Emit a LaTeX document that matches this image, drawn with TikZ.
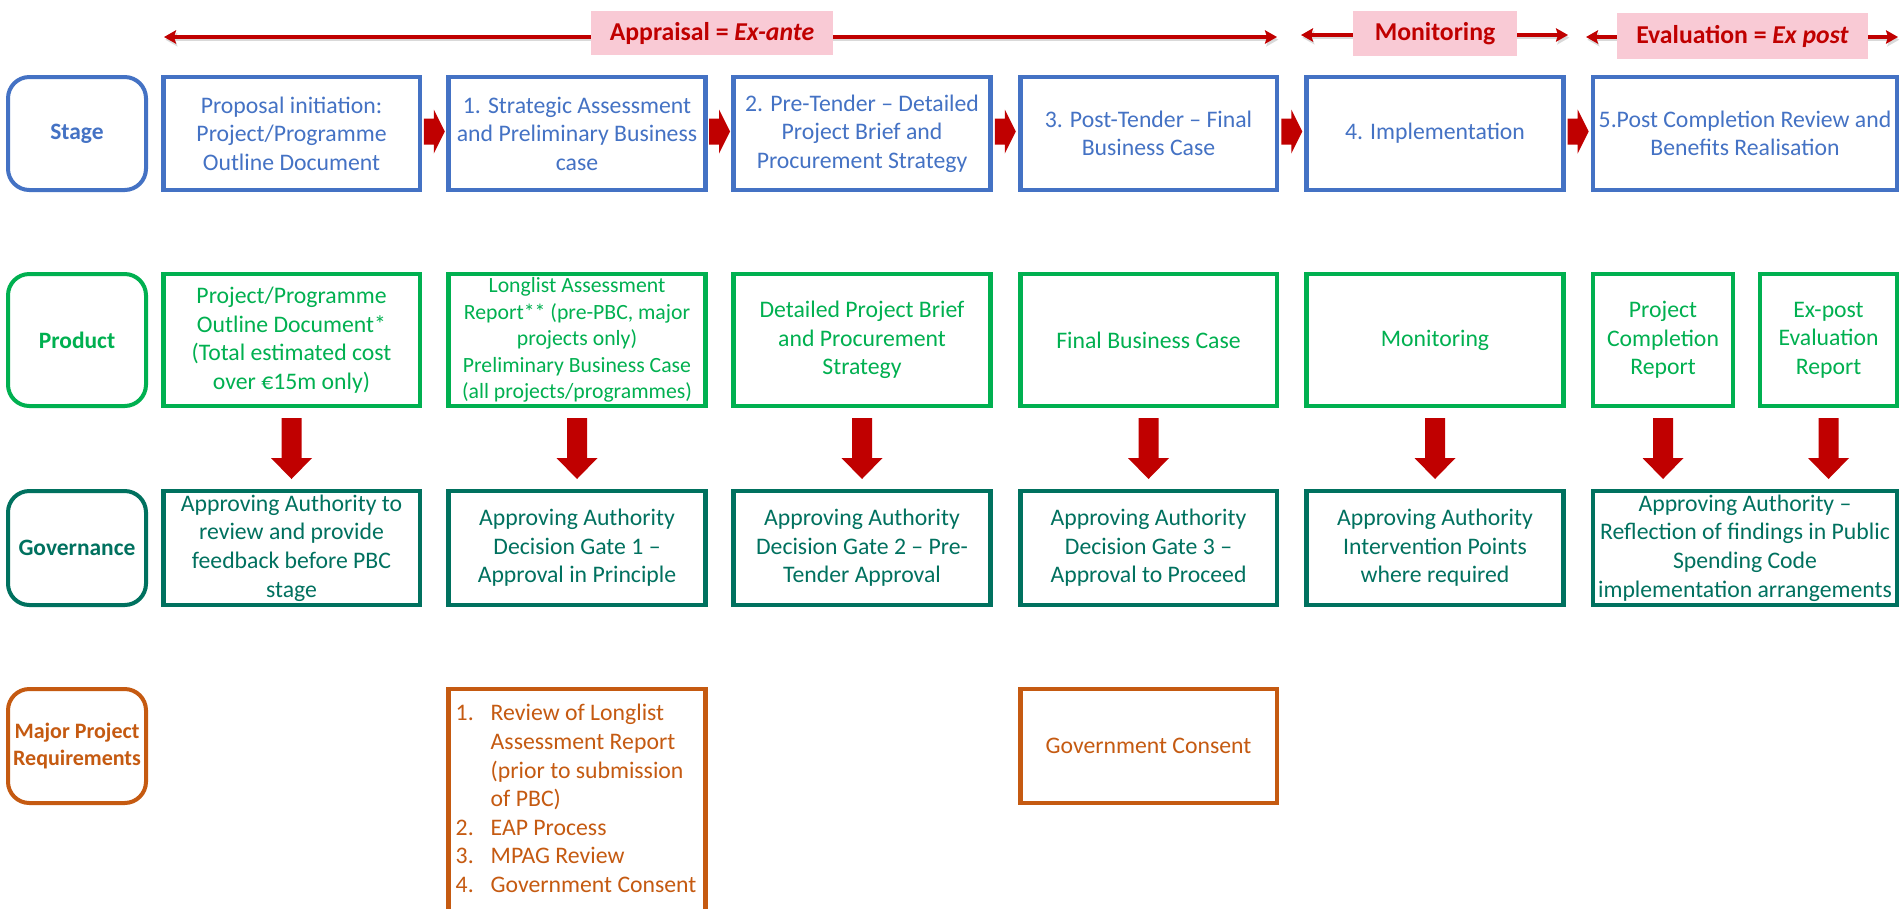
\documentclass[tikz,border=0pt]{standalone}
\usepackage{fontspec}
\setmainfont{Carlito}
\usetikzlibrary{arrows.meta,calc}
\definecolor{cblue}{HTML}{4472C4}
\definecolor{cgreen}{HTML}{00B050}
\definecolor{cteal}{HTML}{00715F}
\definecolor{corange}{HTML}{C55A11}
\definecolor{cred}{HTML}{C00000}
\definecolor{cpink}{HTML}{F9CAD5}
\newcommand\myrightarrow[1]{\fill[cred] ($(#1)+(-10.5,-13)$) -- ++(10,0) -- ++(0,-9) -- ++(11,22) -- ++(-11,22) -- ++(0,-9) -- ++(-10,0) -- cycle;}
\newcommand\mydownarrow[1]{\fill[cred] ($(#1)+(-10,-30.5)$) -- ++(20,0) -- ++(0,40) -- ++(10.5,0) -- ++(-20.5,21) -- ++(-20.5,-21) -- ++(10.5,0) -- cycle;}
\begin{document}
\begin{tikzpicture}[x=0.75pt,y=-0.75pt,
  every node/.style={inner sep=0pt, align=center},
  bx/.style={draw, line width=3.4pt, fill=white, font=\fontsize{17.8pt}{21.4pt}\selectfont},
  lbl/.style={draw, line width=3pt, rounded corners=16pt, fill=white, minimum width=103.5pt, font=\bfseries\fontsize{17.6pt}{21pt}\selectfont},
  stg/.style={bx, draw=cblue, text=cblue, minimum height=84.75pt},
  prd/.style={bx, draw=cgreen, text=cgreen, minimum height=99pt},
  gov/.style={bx, draw=cteal, text=cteal, minimum height=85.5pt},
  maj/.style={bx, draw=corange, text=corange},
  wA/.style={minimum width=192.4pt},
  wB/.style={minimum width=228pt},
  toparrow/.style={draw=cred, line width=2.4pt, {Stealth[length=9pt,width=10pt,inset=1.5pt]}-{Stealth[length=9pt,width=10pt,inset=1.5pt]},
    preaction={draw=black!15, line width=2.6pt, transform canvas={shift={(1pt,-2pt)}}}},
  toplabel/.style={fill=cpink, text=cred, font=\bfseries\fontsize{19.3pt}{23pt}\selectfont}
]
\useasboundingbox (0,0) rectangle (1901,908);
\clip (0,0) rectangle (1901,908);

% top arrows and labels
\coordinate (aL) at (164,37); \coordinate (aR) at (1277,37);
\coordinate (mL) at (1301,35); \coordinate (mR) at (1568,35);
\coordinate (eL) at (1586,37); \coordinate (eR) at (1898,37);
\draw[toparrow] (aL) -- (aR);
\draw[toparrow] (mL) -- (mR);
\draw[toparrow] (eL) -- (eR);
\node[toplabel, minimum width=181.5pt, minimum height=33pt] (appr) at (712,33) {Appraisal = \textit{Ex-ante}};
\node[toplabel, minimum width=123pt, minimum height=33.75pt] (moni) at (1435,33.5) {Monitoring};
\node[toplabel, minimum width=188.25pt, minimum height=34.5pt] (eval) at (1742.5,36) {Evaluation = \textit{Ex post}};

% row labels
\node[lbl, draw=cblue, text=cblue, minimum height=84.75pt] (Ls) at (77,133.5) {Stage};
\node[lbl, draw=cgreen, text=cgreen, minimum height=99pt] (Lp) at (77,340) {Product};
\node[lbl, draw=cteal, text=cteal, minimum height=85.5pt] (Lg) at (77,548) {Governance};
\node[lbl, draw=corange, text=corange, minimum height=85.5pt, font=\bfseries\fontsize{16.5pt}{20pt}\selectfont] (Lm) at (77,746) {Major Project\\Requirements};

% stage row
\node[stg, wA] (s1) at (291.5,133.5) {Proposal initiation:\\Project/Programme\\Outline Document};
\node[stg, wA] (s2) at (577,133.5) {1. Strategic Assessment\\and Preliminary Business\\case};
\node[stg, wA] (s3) at (862,133.5) {2. Pre-Tender – Detailed\\Project Brief and\\Procurement Strategy};
\node[stg, wA] (s4) at (1148.5,133.5) {3. Post-Tender – Final\\Business Case};
\node[stg, wA] (s5) at (1435,133.5) {4. Implementation};
\node[stg, wB] (s6) at (1745,133.5) {5.Post Completion Review and\\Benefits Realisation};

% product row
\node[prd, wA] (p1) at (291.5,340) {Project/Programme\\Outline Document*\\(Total estimated cost\\over €15m only)};
\node[prd, wA, font=\fontsize{16.3pt}{19.8pt}\selectfont] (p2) at (577,340) {Longlist Assessment\\Report** (pre-PBC, major\\projects only)\\Preliminary Business Case\\(all projects/programmes)};
\node[prd, wA] (p3) at (862,340) {Detailed Project Brief\\and Procurement\\Strategy};
\node[prd, wA] (p4) at (1148.5,340) {Final Business Case};
\node[prd, wA] (p5) at (1435,340) {Monitoring};
\node[prd, minimum width=105pt] (p6a) at (1663,340) {Project\\Completion\\Report};
\node[prd, minimum width=102.75pt] (p6b) at (1828.5,340) {Ex-post\\Evaluation\\Report};

% governance row
\node[gov, wA] (g1) at (291.5,548) {Approving Authority to\\review and provide\\feedback before PBC\\stage};
\node[gov, wA] (g2) at (577,548) {Approving Authority\\Decision Gate 1 –\\Approval in Principle};
\node[gov, wA] (g3) at (862,548) {Approving Authority\\Decision Gate 2 – Pre-\\Tender Approval};
\node[gov, wA] (g4) at (1148.5,548) {Approving Authority\\Decision Gate 3 –\\Approval to Proceed};
\node[gov, wA] (g5) at (1435,548) {Approving Authority\\Intervention Points\\where required};
\node[gov, wB] (g6) at (1745,548) {Approving Authority –\\Reflection of findings in Public\\Spending Code\\implementation arrangements};

% major project row
\node[maj, wA, minimum height=188.25pt] (m2) at (577,814.5) {};
\node[anchor=north west, align=left, text=corange, font=\fontsize{17.8pt}{21.4pt}\selectfont] (m2t) at ($(m2.north west)+(9,14)$) {%
\begin{tabular}{@{}l@{}}
\makebox[26.25pt][l]{1.}Review of Longlist\\
\makebox[26.25pt][l]{}Assessment Report\\
\makebox[26.25pt][l]{}(prior to submission\\
\makebox[26.25pt][l]{}of PBC)\\
\makebox[26.25pt][l]{2.}EAP Process\\
\makebox[26.25pt][l]{3.}MPAG Review\\
\makebox[26.25pt][l]{4.}Government Consent
\end{tabular}};
\node[maj, wA, minimum height=85.5pt] (m4) at (1148.5,746) {Government Consent};

% horizontal block arrows between stages
\coordinate (h1) at ($($(s1.east)!0.5!(s2.west)$)+(0,-2)$); \myrightarrow{h1}
\coordinate (h2) at ($($(s2.east)!0.5!(s3.west)$)+(0,-2)$); \myrightarrow{h2}
\coordinate (h3) at ($($(s3.east)!0.5!(s4.west)$)+(0,-2)$); \myrightarrow{h3}
\coordinate (h4) at ($($(s4.east)!0.5!(s5.west)$)+(0,-2)$); \myrightarrow{h4}
\coordinate (h5) at ($($(s5.east)!0.5!(s6.west)$)+(0,-2)$); \myrightarrow{h5}

% down arrows
\coordinate (d1) at ($(p1.south)!0.5!(g1.north)$); \mydownarrow{d1}
\coordinate (d2) at ($(p2.south)!0.5!(g2.north)$); \mydownarrow{d2}
\coordinate (d3) at ($(p3.south)!0.5!(g3.north)$); \mydownarrow{d3}
\coordinate (d4) at ($(p4.south)!0.5!(g4.north)$); \mydownarrow{d4}
\coordinate (d5) at ($(p5.south)!0.5!(g5.north)$); \mydownarrow{d5}
\coordinate (d6) at ($(p6a.south)!0.5!(p6a.south |- g6.north)$); \mydownarrow{d6}
\coordinate (d7) at ($(p6b.south)!0.5!(p6b.south |- g6.north)$); \mydownarrow{d7}
\end{tikzpicture}
\end{document}
